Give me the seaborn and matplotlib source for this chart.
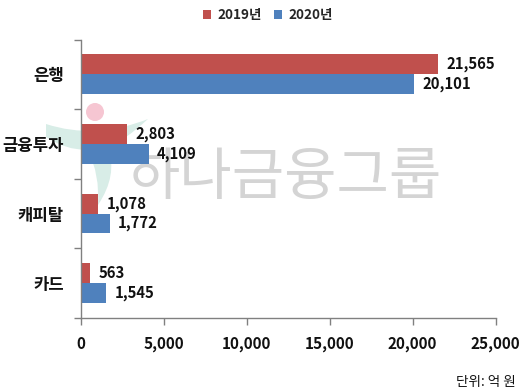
import pandas as pd
import seaborn as sns
import matplotlib.pyplot as plt
from matplotlib.patches import Circle, PathPatch
from matplotlib.path import Path

categories = ['은행', '금융투자', '캐피탈', '카드']
values_2019 = [21565, 2803, 1078, 563]
values_2020 = [20101, 4109, 1772, 1545]
series_names = ['2019년', '2020년']
x_ticks = [0, 5000, 10000, 15000, 20000, 25000]
watermark = '하나금융그룹'

sns.set_style('white')
plt.rcParams['font.family'] = ['Noto Sans CJK KR', 'DejaVu Sans']

df = pd.DataFrame({
    'category': categories * 2,
    'value': values_2019 + values_2020,
    'series': [series_names[0]] * 4 + [series_names[1]] * 4,
})

W, H = 530, 391
fig = plt.figure(figsize=(5.3, 3.91), dpi=100)

# watermark sits on its own full-figure axes in pixel coords, behind the chart
bg = fig.add_axes([0, 0, 1, 1], zorder=0)
bg.set_xlim(0, W)
bg.set_ylim(H, 0)
bg.axis('off')
bg.text(285, 178, watermark, ha='center', va='center', fontsize=41, color='#D4D4D4')
bg.add_patch(Circle((95, 112), 9, color='#F6C6D2', lw=0))
swoosh = Path([(46, 124), (95, 140), (148, 119),
               (125, 140), (108, 148),
               (118, 175), (98, 205),
               (100, 175), (88, 150),
               (65, 150), (46, 137),
               (46, 124)],
              [Path.MOVETO, Path.CURVE3, Path.CURVE3,
               Path.CURVE3, Path.CURVE3,
               Path.CURVE3, Path.CURVE3,
               Path.CURVE3, Path.CURVE3,
               Path.CURVE3, Path.CURVE3,
               Path.LINETO])
bg.add_patch(PathPatch(swoosh, facecolor='#D8EDE7', lw=0))

ax = fig.add_axes([80.5 / W, 1 - 318 / H, 415 / W, 278.5 / H], zorder=1)
ax.patch.set_alpha(0)

sns.barplot(data=df, y='category', x='value', hue='series', palette=['#C0504D', '#4F81BD'],
            width=0.57, saturation=1, gap=0, linewidth=0, ax=ax)

for container in ax.containers:
    labels = [f'{v:,.0f}' for v in container.datavalues]
    ax.bar_label(container, labels=labels, padding=6, fontsize=10.7, fontweight='bold', color='#111111')

ax.set_xlim(0, 25000)
ax.set_ylim(3.5, -0.5)
ax.set_xticks(x_ticks)
ax.set_xticklabels([f'{t:,}' for t in x_ticks], fontsize=11, fontweight='bold', color='#111111')
ax.set_yticks([-0.5, 0.5, 1.5, 2.5, 3.5], minor=True)
ax.tick_params(axis='y', which='major', labelsize=12, length=0, pad=12, labelcolor='#111111')
ax.tick_params(axis='y', which='minor', left=True, length=5, width=1, color='#808080')
ax.tick_params(axis='x', bottom=True, length=5, width=1, color='#808080', pad=8)
for lab in ax.get_yticklabels():
    lab.set_fontweight('bold')
ax.set_xlabel('')
ax.set_ylabel('')

for s in ['top', 'right']:
    ax.spines[s].set_visible(False)
for s in ['left', 'bottom']:
    ax.spines[s].set_color('#808080')
    ax.spines[s].set_linewidth(1)

ax.legend(loc='center', bbox_to_anchor=(268 / W, 1 - 15 / H), bbox_transform=fig.transFigure, ncol=2, frameon=False,
          handlelength=0.6, handleheight=0.6, columnspacing=0.9, handletextpad=0.5,
          prop={'weight': 'bold', 'size': 9.7})

fig.text(516 / W, 1 - 382 / H, '단위: 억 원', ha='right', va='center', fontsize=9.8, color='#111111')

plt.savefig('out.png', dpi=100)
